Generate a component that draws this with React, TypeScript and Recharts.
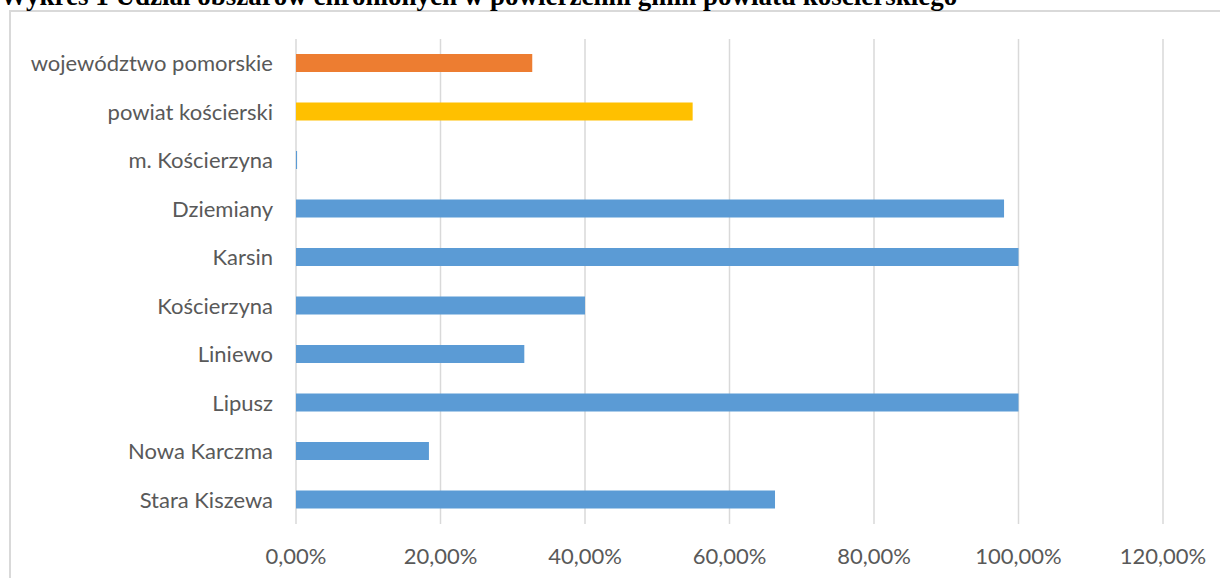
import React from 'react';
import { BarChart, Bar, XAxis, YAxis, CartesianGrid, Cell } from 'recharts';

const categories = [
  'województwo pomorskie',
  'powiat kościerski',
  'm. Kościerzyna',
  'Dziemiany',
  'Karsin',
  'Kościerzyna',
  'Liniewo',
  'Lipusz',
  'Nowa Karczma',
  'Stara Kiszewa'
];

const shares = [0.327, 0.549, 0.0015, 0.98, 1.0, 0.4, 0.316, 1.0, 0.184, 0.663];

const barColors = [
  '#ED7D31',
  '#FFC000',
  '#5B9BD5',
  '#5B9BD5',
  '#5B9BD5',
  '#5B9BD5',
  '#5B9BD5',
  '#5B9BD5',
  '#5B9BD5',
  '#5B9BD5'
];

const xTicks = [0, 0.2, 0.4, 0.6, 0.8, 1.0, 1.2];

const chartData = categories.map((name, i) => ({ name, value: shares[i] }));

const pct = (v: number) => `${(v * 100).toFixed(2).replace('.', ',')}%`;

const labelFont = 'Lato, "Open Sans", sans-serif';

export default function App() {
  return (
    <div
      style={{
        position: 'absolute',
        left: 0,
        top: 0,
        width: 1220,
        height: 578,
        overflow: 'hidden',
        background: '#fff'
      }}
    >
      <div
        style={{
          position: 'absolute',
          left: 9,
          top: 10,
          width: 1240,
          height: 620,
          border: '2px solid #D9D9D9',
          boxSizing: 'border-box'
        }}
      />
      <div
        style={{
          position: 'absolute',
          left: 0,
          top: -17.5,
          fontFamily: '"Liberation Serif", "Times New Roman", serif',
          fontWeight: 'bold',
          fontSize: 27,
          lineHeight: '27px',
          whiteSpace: 'nowrap',
          color: '#000'
        }}
      >
        Wykres 1 Udział obszarów chronionych w powierzchni gmin powiatu kościerskiego
      </div>
      <div style={{ position: 'absolute', left: 0, top: 0 }}>
        <BarChart
          width={1220}
          height={578}
          data={chartData}
          layout="vertical"
          margin={{ top: 39, right: 57, bottom: 0, left: 0 }}
        >
          <CartesianGrid horizontal={false} stroke="#D9D9D9" strokeWidth={1.5} />
          <XAxis
            type="number"
            domain={[0, 1.2]}
            ticks={xTicks}
            tickFormatter={pct}
            axisLine={false}
            tickLine={false}
            tickSize={0}
            tickMargin={24}
            height={54}
            interval={0}
            tick={{ fill: '#595959', fontSize: 22, fontFamily: labelFont }}
          />
          <YAxis
            type="category"
            dataKey="name"
            width={296}
            axisLine={false}
            tickLine={false}
            tickSize={0}
            tickMargin={23}
            interval={0}
            tick={{ fill: '#595959', fontSize: 22, fontFamily: labelFont }}
          />
          <Bar dataKey="value" barSize={18} isAnimationActive={false}>
            {chartData.map((d, i) => (
              <Cell key={d.name} fill={barColors[i]} />
            ))}
          </Bar>
        </BarChart>
      </div>
    </div>
  );
}
